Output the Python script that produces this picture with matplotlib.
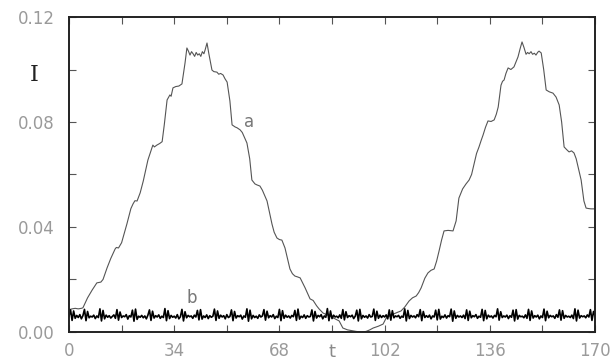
import matplotlib
matplotlib.use("Agg")
import matplotlib.pyplot as plt
import numpy as np

# ---- data ----
t_a = [0, 1, 2, 3, 4, 4.5, 6, 7.5, 9, 10.3, 11, 12.3, 13.5, 14.9, 15.3, 16, 17, 18.7, 20, 20.7,
       21.3, 22, 23, 24, 25.5, 26.5, 27.1, 27.6, 28.4, 29.3, 30.1, 30.8, 31.7, 32.6, 33, 33.6, 34.5,
       35.5, 36.5, 37.5, 38.1, 38.6, 39.1, 39.6, 40.1, 40.6, 41.1, 41.6, 42.1, 42.6, 43.1, 43.6, 44.0,
       44.6, 45.2, 46.2, 46.8, 47.8, 48.4, 49.0, 49.8, 50.4, 51.1, 52.0, 52.7, 53.7, 54.3, 55.3, 56.0,
       57.5, 58.4, 59.1, 60.1, 60.8, 61.7, 62.5, 64.0, 65.6, 66.3, 67.2, 68.0, 68.8, 69.8, 71.4, 72.2,
       73.0, 73.8, 74.7, 76.3, 77.9, 78.9, 80.0, 80.8, 82.1, 84, 86, 87.3, 88.5, 90, 92.8, 94.5, 96.0,
       97.2, 98.3, 100, 101.5, 102.5, 103.8, 105.0, 106.2, 107.3, 108.5, 109.9, 111, 112.2, 113.0,
       113.8, 115, 116.0, 117, 118.0, 118.8, 119.6, 120.4, 121.2, 122.5, 124.1, 125.1, 126.0, 127.2,
       128.3, 129.3, 130.1, 130.9, 131.7, 132.5, 133.2, 133.8, 134.6, 135.4, 136.4, 137.4, 138.1,
       138.7, 139.6, 140.1, 140.6, 141.2, 141.9, 142.8, 143.8, 144.5, 145.1, 145.8, 146.4, 147.0,
       147.7, 148.2, 148.7, 149.3, 149.8, 150.4, 150.9, 151.5, 151.9, 152.6, 153.4, 154.2, 155.2,
       156.4, 157.4, 158.4, 159.2, 160.0, 160.8, 161.6, 162.4, 163.2, 163.9, 164.5, 165.5, 166.4,
       167.1, 168.0, 168.7, 170]
I_a = [0.0085, 0.0088, 0.0090, 0.0088, 0.0090, 0.0092, 0.0130, 0.0160, 0.0187, 0.0190, 0.0200,
       0.0244, 0.0280, 0.0316, 0.0322, 0.0320, 0.0340, 0.0411, 0.0470, 0.0488, 0.0500, 0.0499,
       0.0530, 0.0575, 0.0655, 0.0690, 0.0712, 0.0705, 0.0712, 0.0718, 0.0725, 0.0790, 0.0884,
       0.0903, 0.0898, 0.0930, 0.0935, 0.0937, 0.0945, 0.1025, 0.1082, 0.1070, 0.1055, 0.1068,
       0.1060, 0.1050, 0.1065, 0.1055, 0.1060, 0.1050, 0.1068, 0.1060, 0.1075, 0.1101, 0.1060,
       0.0998, 0.0992, 0.0990, 0.0982, 0.0985, 0.0979, 0.0965, 0.0952, 0.0880, 0.0789, 0.0781,
       0.0778, 0.0770, 0.0760, 0.0720, 0.0660, 0.0579, 0.0564, 0.0560, 0.0556, 0.0540, 0.0499,
       0.0411, 0.0380, 0.0358, 0.0352, 0.0350, 0.0320, 0.0240, 0.0222, 0.0213, 0.0210, 0.0206,
       0.0168, 0.0126, 0.0120, 0.0100, 0.0088, 0.0072, 0.0062, 0.0050, 0.0042, 0.0015, 0.0008,
       0.0002, 0.0000, 0.0002, 0.0008, 0.0015, 0.0022, 0.0030, 0.0053, 0.0062, 0.0069, 0.0075,
       0.0080, 0.0095, 0.0118, 0.0130, 0.0137, 0.0150, 0.0168, 0.0205, 0.0225, 0.0235, 0.0240,
       0.0270, 0.0309, 0.0350, 0.0385, 0.0387, 0.0385, 0.0423, 0.0510, 0.0545, 0.0564, 0.0579,
       0.0600, 0.0640, 0.0680, 0.0705, 0.0730, 0.0750, 0.0780, 0.0804, 0.0802, 0.0808, 0.0830,
       0.0857, 0.0940, 0.0955, 0.0960, 0.0985, 0.1006, 0.1000, 0.1010, 0.1030, 0.1048, 0.1080,
       0.1105, 0.1085, 0.1058, 0.1065, 0.1060, 0.1068, 0.1058, 0.1062, 0.1055, 0.1066, 0.1070,
       0.1063, 0.1000, 0.0922, 0.0915, 0.0910, 0.0895, 0.0865, 0.0800, 0.0705, 0.0695, 0.0686,
       0.0690, 0.0682, 0.0660, 0.0629, 0.0579, 0.0499, 0.0472, 0.0470, 0.0469, 0.0469]

# curve b, sampled every 0.5 in t, values in units of 1e-4
b_raw = [
    60, 84, 44, 80, 52, 63, 55, 66, 50, 62, 86, 43, 78, 54, 60, 57, 64, 51, 61, 55,
    88, 42, 82, 50, 64, 56, 62, 53, 59, 65, 52, 85, 45, 76, 55, 61, 58, 66, 49, 62,
    57, 83, 41, 87, 48, 60, 56, 63, 54, 61, 50, 64, 84, 44, 79, 53, 62, 57, 65, 52,
    60, 55, 89, 43, 81, 51, 63, 56, 60, 53, 66, 50, 58, 86, 42, 77, 54, 63, 58, 61,
    52, 64, 57, 82, 46, 85, 49, 61, 55, 65, 51, 62, 56, 60, 87, 44, 80, 52, 64, 57,
    62, 50, 66, 55, 59, 84, 43, 78, 53, 62, 58, 64, 49, 61, 56, 88, 41, 83, 50, 63,
    55, 60, 52, 65, 57, 61, 85, 45, 79, 54, 62, 57, 66, 51, 60, 55, 86, 43, 81, 52,
    64, 56, 61, 53, 63, 58, 82, 44, 87, 49, 60, 55, 65, 52, 62, 57, 59, 84, 42, 78,
    53, 63, 58, 66, 50, 61, 56, 89, 43, 80, 51, 64, 57, 60, 54, 65, 52, 85, 46, 77,
    55, 62, 58, 64, 51, 60, 83, 42, 86, 50, 63, 56, 61, 53, 66, 57, 59, 87, 44, 79,
    52, 64, 55, 62, 57, 65, 50, 84, 45, 81, 54, 61, 58, 63, 52, 60, 56, 88, 42, 82,
    51, 63, 57, 61, 54, 66, 58, 85, 43, 78, 55, 62, 56, 64, 50, 61, 57, 83, 46, 86,
    49, 60, 55, 65, 53, 62, 58, 87, 41, 80, 52, 63, 57, 61, 55, 64, 51, 84, 44, 79,
    54, 62, 58, 66, 52, 60, 56, 86, 43, 82, 50, 64, 57, 61, 53, 63, 58, 88, 45, 77,
    55, 61, 57, 64, 51, 62, 56, 83, 42, 85, 49, 63, 58, 60, 54, 65, 52, 86, 44, 80,
    53, 62, 57, 64, 50, 61, 55, 87, 43, 79, 54, 63, 58, 61, 52, 66, 56, 84, 45, 81,
    52, 63, 57, 60, 55, 64, 51, 88, 42, 83, 53, 62, 58, 61, 54, 65, 57, 85, 44, 78,
    60]
t_b = np.arange(len(b_raw)) * 0.5
I_b = np.array(b_raw) * 1e-4

x_ticks = [0, 34, 68, 102, 136, 170]
x_minor = [17, 51, 85, 119, 153]
y_ticks = [0.00, 0.04, 0.08, 0.12]
y_tick_labels = ["0.00", "0.04", "0.08", "0.12"]
y_minor = [0.02, 0.06, 0.10]

# ---- figure ----
fig = plt.figure(figsize=(6.16, 3.62), dpi=100)
ax = fig.add_axes([0.112, 0.083, 0.854, 0.870])

ax.plot(t_a, I_a, color="#555555", lw=0.8)
ax.plot(t_b, I_b, color="black", lw=1.2)

ax.set_xlim(0, 170)
ax.set_ylim(0, 0.12)

ax.set_xticks(x_ticks)
ax.set_xticklabels([str(v) for v in x_ticks])
ax.set_xticks(x_minor, minor=True)
ax.set_yticks(y_ticks)
ax.set_yticklabels(y_tick_labels)
ax.set_yticks(y_minor, minor=True)

ax.tick_params(which="both", direction="in", length=5, width=0.8,
               top=True, right=True, colors="#555555",
               labelcolor="#9a9a9a", labelsize=12)
ax.tick_params(axis="x", which="both", pad=7)
ax.tick_params(axis="y", which="both", pad=10)

for s in ax.spines.values():
    s.set_linewidth(1.4)
    s.set_color("#222222")

# axis labels, placed as in the reference
ax.text(85, -0.0078, "t", ha="center", va="center", fontsize=13, color="#8a8a8a")
ax.text(-0.067, 0.815, "I", transform=ax.transAxes, ha="center", va="center",
        fontsize=16, family="DejaVu Serif", color="#222222")

# curve labels
ax.text(58.2, 0.0800, "a", ha="center", va="center", fontsize=12, color="#777777")
ax.text(39.8, 0.0130, "b", ha="center", va="center", fontsize=12, color="#777777")

fig.savefig("out.png", dpi=100)
